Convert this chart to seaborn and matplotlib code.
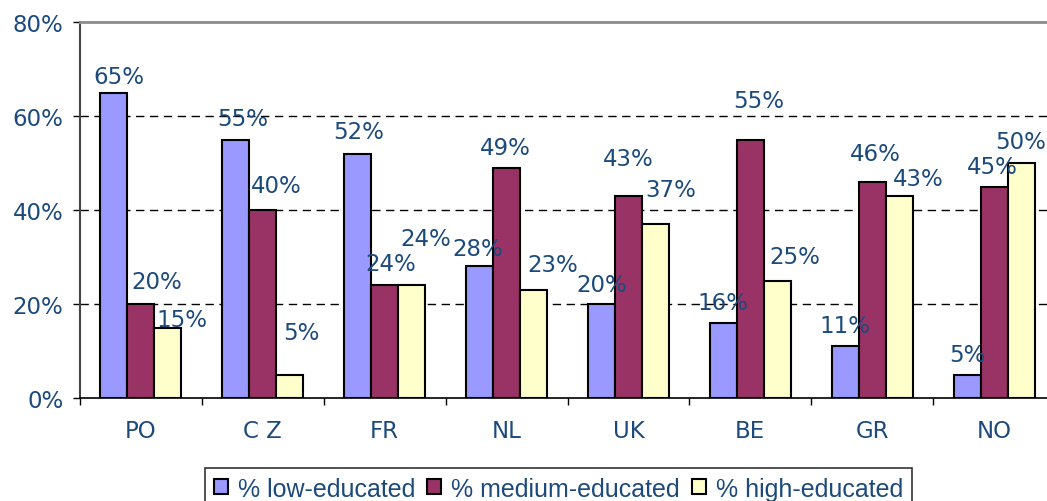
import pandas as pd
import matplotlib.pyplot as plt
import seaborn as sns

# data
countries = ['PO', 'C Z', 'FR', 'NL', 'UK', 'BE', 'GR', 'NO']
low_edu = [65, 55, 52, 28, 20, 16, 11, 5]
medium_edu = [20, 40, 24, 49, 43, 55, 46, 45]
high_edu = [15, 5, 24, 23, 37, 25, 43, 50]
series = ['% low-educated', '% medium-educated', '% high-educated']
colors = ['#9999FF', '#993366', '#FFFFCC']
text_color = '#1c4a7c'

# label nudges (pixels) so the labels sit where the original puts them
label_dx = [[5, 7, 1, -2, 0, 0, 0, 0],
            [16, 13, 6, -1, 0, 8, 3, -2],
            [14, 12, 14, 19, 15, 17, 19, 0]]
label_dy = [[10, 14, 16, 11, 13, 14, 14, 13],
            [16, 18, 15, 14, 31, 32, 22, 13],
            [1, 35, 40, 19, 28, 17, 11, 15]]

df = pd.DataFrame({
    'country': countries * 3,
    'group': [series[0]] * 8 + [series[1]] * 8 + [series[2]] * 8,
    'value': low_edu + medium_edu + high_edu,
})

sns.set_style('white')
plt.rcParams['font.family'] = ['DejaVu Sans']

fig = plt.figure(figsize=(10.47, 5.02), dpi=100)
# plot area runs past the right edge, as in the original (cropped) image
ax = fig.add_axes([80 / 1047, 103 / 502, 975 / 1047, 376 / 502])

sns.barplot(data=df, x='country', y='value', hue='group', palette=colors,
            width=0.665, edgecolor='black', linewidth=1.5, saturation=1,
            legend=False, ax=ax, zorder=3)

for s, cont in enumerate(ax.containers):
    for i, bar in enumerate(cont):
        h = bar.get_height()
        ax.annotate(f'{int(round(h))}%', (bar.get_x() + bar.get_width() / 2, h),
                    xytext=(label_dx[s][i], label_dy[s][i]), textcoords='offset pixels',
                    ha='center', va='baseline', fontsize=16.5, color=text_color,
                    zorder=4, annotation_clip=False)

ax.set_ylim(0, 80)
ax.set_xlim(-0.5, 7.5)
ax.set_yticks([0, 20, 40, 60, 80])
ax.set_yticklabels(['0%', '20%', '40%', '60%', '80%'])
for y in [20, 40, 60]:
    ax.axhline(y, color='black', linestyle=(0, (6, 4)), linewidth=1, zorder=1)

ax.set_xlabel('')
ax.set_ylabel('')
ax.tick_params(axis='y', labelsize=16.5, labelcolor=text_color, length=5,
               width=1, color='black', left=True, pad=7)
ax.tick_params(axis='x', labelsize=16.5, labelcolor=text_color, length=0, pad=15)
ax.set_xticks([i - 0.5 for i in range(9)], minor=True)
ax.tick_params(axis='x', which='minor', length=5, width=1, color='black', bottom=True)

ax.spines['left'].set_color('#444444')
ax.spines['left'].set_linewidth(1.5)
ax.spines['bottom'].set_color('black')
ax.spines['bottom'].set_linewidth(1.2)
ax.spines['top'].set_color('#8c8c8c')
ax.spines['top'].set_linewidth(2)
ax.spines['right'].set_visible(False)

handles = [plt.Rectangle((0, 0), 1, 1, facecolor=c, edgecolor='black', linewidth=1.5)
           for c in colors]
leg = fig.legend(handles, series, ncol=3, loc='upper left',
                 bbox_to_anchor=(205 / 1047, 1 - 469 / 502), borderaxespad=0,
                 frameon=True, fancybox=False, edgecolor='black',
                 handlelength=0.55, handleheight=0.55, handletextpad=0.4,
                 columnspacing=0.5, borderpad=0.35,
                 prop={'family': 'Liberation Sans', 'size': 18})
for t in leg.get_texts():
    t.set_color(text_color)
leg.get_frame().set_linewidth(1.2)

fig.savefig('out.png', dpi=100)
